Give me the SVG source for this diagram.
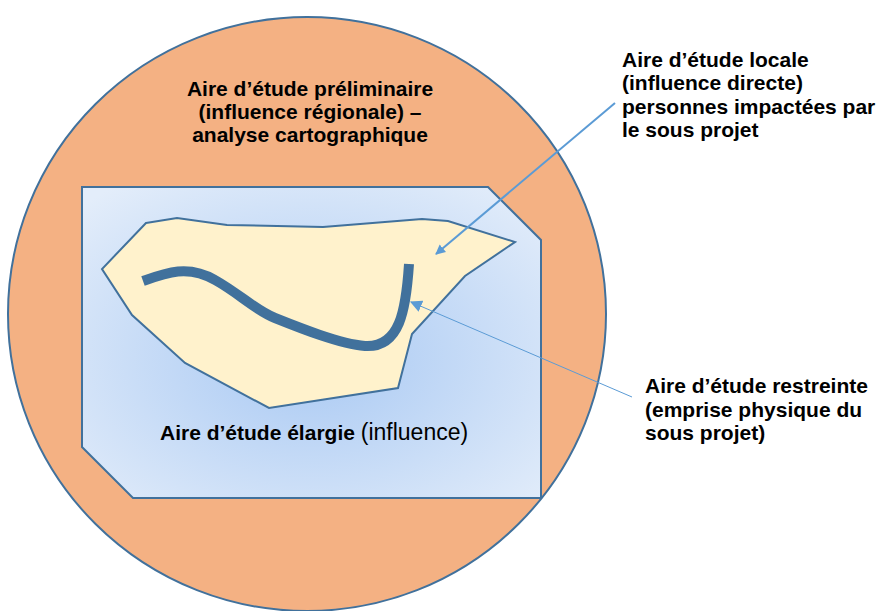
<svg xmlns="http://www.w3.org/2000/svg" width="884" height="611" viewBox="0 0 884 611">
<style>
text{font-family:"Liberation Sans",Arial,sans-serif;font-size:21px;fill:#000}
.b{font-weight:bold}
.ln{stroke:#5b9bd5;fill:none}
</style>
<defs>
<radialGradient id="g" cx="0.5" cy="0.55" r="0.7">
<stop offset="0" stop-color="#a9c9f3"/>
<stop offset="1" stop-color="#e3edfa"/>
</radialGradient>
<marker id="ah" viewBox="0 0 10 10" refX="9" refY="5" markerWidth="5" markerHeight="5" markerUnits="strokeWidth" orient="auto">
<path d="M0,0 L10,5 L0,10 z" fill="#5b9bd5"/>
</marker>
<marker id="ah2" viewBox="0 0 10 10" refX="9" refY="5" markerWidth="12" markerHeight="12" markerUnits="strokeWidth" orient="auto">
<path d="M0,0 L10,5 L0,10 z" fill="#5b9bd5"/>
</marker>
</defs>
<g id="preliminaire">
<ellipse cx="307" cy="314" rx="299" ry="297" fill="#f4b183" stroke="#41719c" stroke-width="2"/>
<text class="b" x="310" y="96" text-anchor="middle">Aire d’étude préliminaire</text>
<text class="b" x="310" y="119" text-anchor="middle">(influence régionale) –</text>
<text class="b" x="310" y="142" text-anchor="middle">analyse cartographique</text>
</g>
<g id="elargie">
<polygon points="82,187 488,187 541,240 541,498 133,498 82,447" fill="url(#g)" stroke="#41719c" stroke-width="2"/>
<text x="160" y="440"><tspan class="b">Aire d’étude élargie</tspan> <tspan font-size="23">(influence)</tspan></text>
</g>
<g id="locale">
<polygon points="146,223 177,218 227,225 323,227 422,219 448,221 515,242 465,276 412,334 398,388 269,408 185,363 132,315 102,269" fill="#fff2cc" stroke="#41719c" stroke-width="2"/>
</g>
<g id="restreinte">
<path d="M143,281 C165,273 188,264 215,280 C240,294 255,310 275,318 C300,328 340,344 365,346 C400,348 406,310 409,264" fill="none" stroke="#41719c" stroke-width="10"/>
</g>
<g id="labels">
<text class="b" x="622" y="67">Aire d’étude locale</text>
<text class="b" x="622" y="90">(influence directe)</text>
<text class="b" x="622" y="114">personnes impactées par</text>
<text class="b" x="622" y="137">le sous projet</text>
<text class="b" x="645" y="393">Aire d’étude restreinte</text>
<text class="b" x="645" y="417">(emprise physique du</text>
<text class="b" x="645" y="440">sous projet)</text>
</g>
<g id="connectors">
<line class="ln" x1="615" y1="103" x2="436" y2="254" stroke-width="2" marker-end="url(#ah)"/>
<line class="ln" x1="632" y1="397" x2="411" y2="302" stroke-width="1" marker-end="url(#ah2)"/>
</g>
</svg>
